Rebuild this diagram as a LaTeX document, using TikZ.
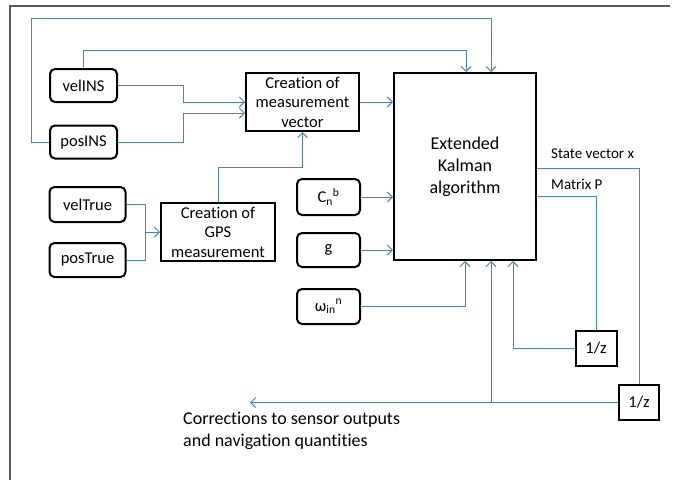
\documentclass[tikz,border=0pt]{standalone}
\usepackage{fontspec}
\setmainfont{Carlito}[Ligatures=NoCommon]
\usetikzlibrary{arrows.meta}
\definecolor{cblue}{RGB}{79,129,189}
\definecolor{fgray}{RGB}{89,89,89}
\begin{document}
\begin{tikzpicture}[x=1pt,y=-1pt,
  box/.style={draw=black, line width=2pt, fill=white, inner sep=0pt, align=center,
              font=\fontsize{16.5}{19.5}\selectfont},
  rbox/.style={box, rounded corners=5pt},
  wire/.style={draw=cblue, line width=1pt},
  arr/.style={wire, -{Straight Barb[length=5pt,width=10pt]}},
  lbl/.style={inner sep=0pt, anchor=west, font=\fontsize{15}{18}\selectfont}]
\useasboundingbox (0,0) rectangle (676,480);
\fill[white] (0,0) rectangle (676,480);
\draw[fgray, line width=2pt] (10,480) -- (10,6) -- (670,6);

% nodes
\node[rbox, minimum width=67pt, minimum height=33pt] (velINS) at (83.5,85.5) {velINS};
\node[rbox, minimum width=67pt, minimum height=33pt] (posINS) at (83.5,142) {posINS};
\node[rbox, minimum width=76pt, minimum height=35pt] (velTrue) at (87.5,204.5) {velTrue};
\node[rbox, minimum width=76pt, minimum height=34pt] (posTrue) at (87.5,260) {posTrue};
\node[box, minimum width=113pt, minimum height=58pt] (meas) at (302.5,102) {Creation of\\measurement\\vector};
\node[box, minimum width=114pt, minimum height=58pt] (gps) at (218,232) {Creation of\\GPS\\measurement};
\node[box, minimum width=142pt, minimum height=187pt, font=\fontsize{18}{22}\selectfont] (ekf) at (465,166.5) {Extended\\Kalman\\algorithm};
\node[rbox, minimum width=63pt, minimum height=36pt] (cnb) at (328.5,197) {C\textsubscript{n}\textsuperscript{b}};
\node[rbox, minimum width=63pt, minimum height=34pt] (g) at (328.5,250) {g};
\node[rbox, minimum width=63pt, minimum height=35pt] (om) at (328.5,306.5) {ω\textsubscript{in}\textsuperscript{n}};
\node[box, minimum width=41pt, minimum height=35pt] (zP) at (596,348.5) {1/z};
\node[box, minimum width=40pt, minimum height=35pt] (zX) at (639,402.5) {1/z};

% labels
\node[lbl] (lx) at (551,154) {State vector x};
\node[lbl] (lp) at (551,184) {Matrix P};
\node[inner sep=0pt, anchor=north west, align=left, font=\fontsize{18}{22}\selectfont] (corrtxt) at (183,412) {Corrections to sensor outputs\\and navigation quantities};

% waypoints
\coordinate (topA) at (491,18);
\coordinate (topB) at (466,50);
\coordinate (jn) at (145,232);
\coordinate (sx) at (639,168);
\coordinate (mp) at (596,196);
\coordinate (jp) at (513,348.5);
\coordinate (jc) at (491,402.5);
\coordinate (corr) at (250,402.5);

% connectors
\draw[arr] (posINS.west) -- ++(-18,0) |- (topA) -- (topA |- ekf.north);
\draw[arr] (velINS.north) |- (topB) -- (topB |- ekf.north);
\draw[arr] (velINS.east) -- ++(65,0) |- (meas.west);
\draw[arr] (posINS.east) -- ++(65,0) |- ([yshift=-11pt]meas.west);
\draw[arr] (meas.east) -- (meas.east -| ekf.west);
\draw[arr] (gps.north) -- ++(0,-35) -| (meas.south);
\draw[wire] (velTrue.east) -| (jn);
\draw[arr] (posTrue.east) -| (jn) -- (gps.west);
\draw[arr] (cnb.east) -- (cnb.east -| ekf.west);
\draw[arr] (g.east) -- (g.east -| ekf.west);
\draw[arr] (om.east) -| (ekf.south);
\draw[wire] (ekf.east |- sx) -- (sx) -- (zX.north);
\draw[wire] (ekf.east |- mp) -- (mp) -- (zP.north);
\draw[arr] (zP.west) -- (jp) -- (jp |- ekf.south);
\draw[arr] (zX.west) -- (corr);
\draw[arr] (jc) -- (jc |- ekf.south);
\end{tikzpicture}
\end{document}
